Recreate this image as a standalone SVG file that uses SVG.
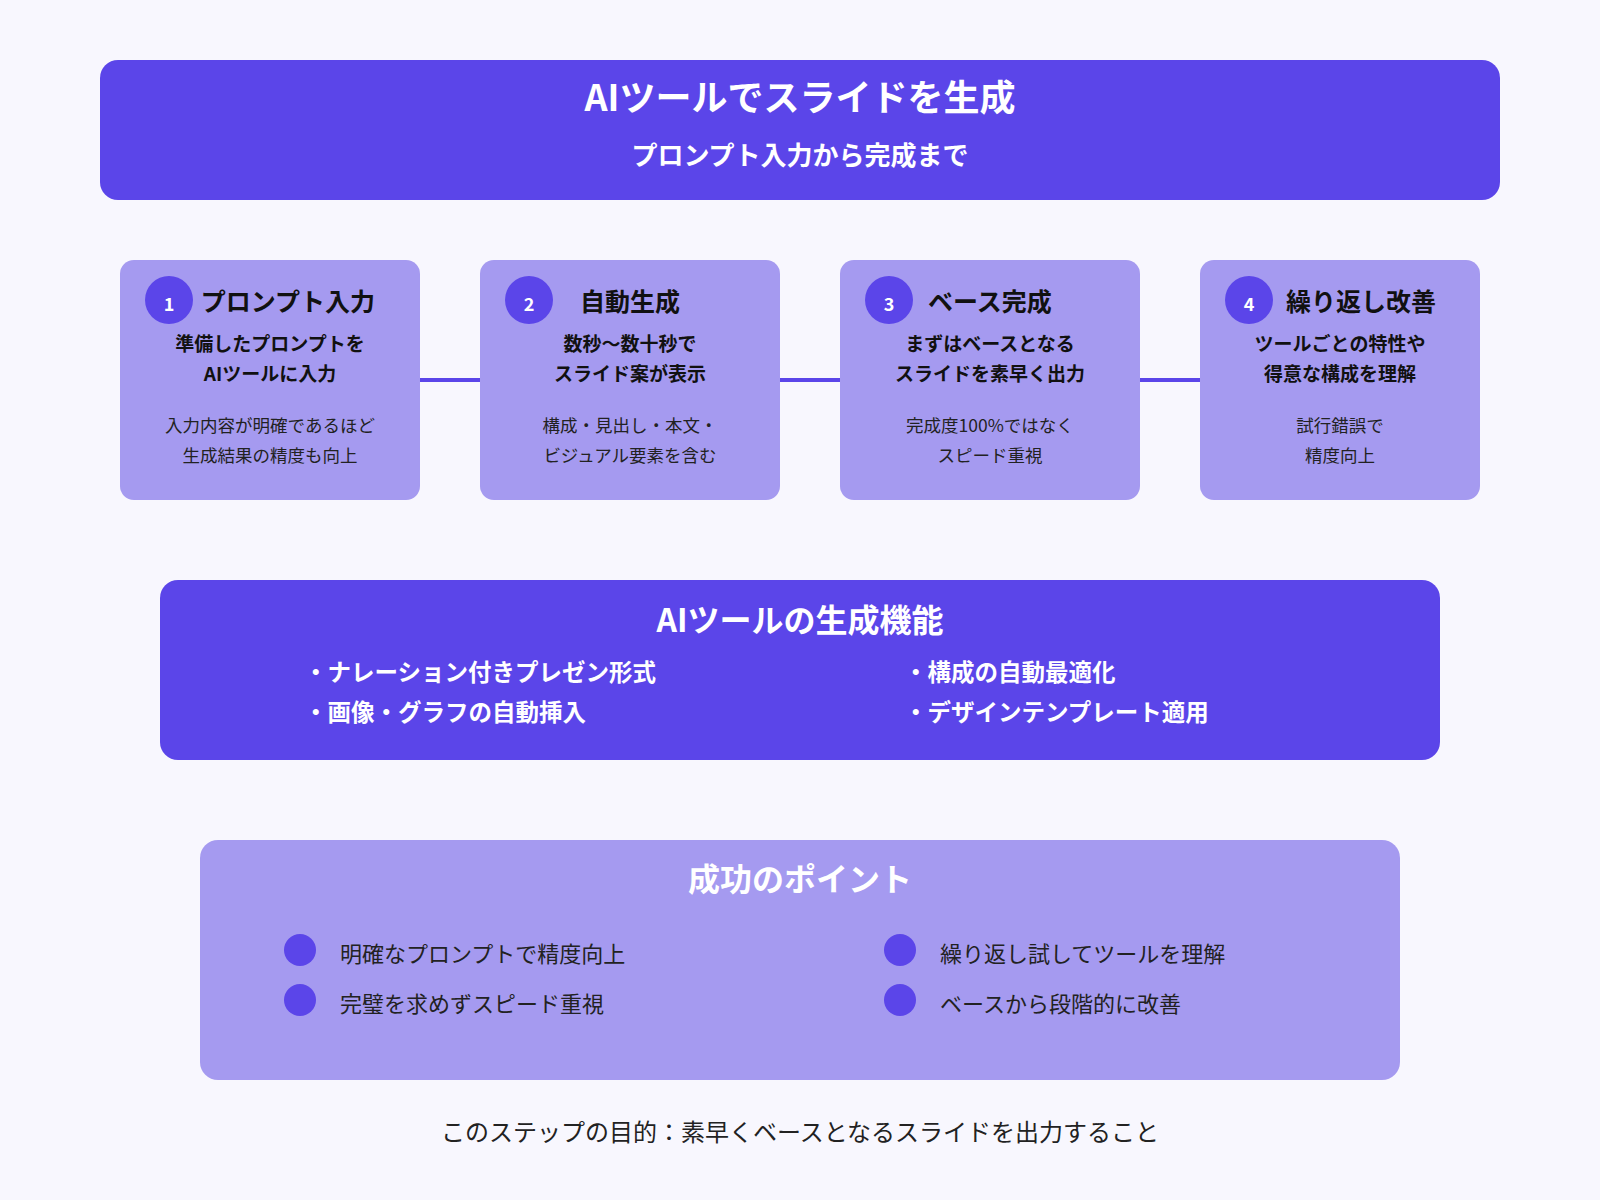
<svg xmlns="http://www.w3.org/2000/svg" width="1600" height="1200" viewBox="0 0 1600 1200">
<style>
text{font-family:"Noto Sans CJK JP","Noto Sans",sans-serif;text-anchor:middle}
.dark{fill:#5B45E9}.light{fill:#A59AF0}
.w{fill:#fff;font-weight:700}
.st{font-size:25px;font-weight:700;fill:#111}
.sb{font-size:19px;font-weight:700;fill:#111}
.sm{font-size:17.5px;fill:#222}
.bl{font-size:23.5px;font-weight:700;fill:#fff;text-anchor:start}
.pt{font-size:22px;fill:#222;text-anchor:start}
</style>
<rect width="1600" height="1200" fill="#F8F7FE"/>
<g id="header"><rect class="dark" x="100" y="60" width="1400" height="140" rx="18"/>
<text class="w" x="800" y="111" font-size="36">AIツールでスライドを生成</text>
<text class="w" x="800" y="165" font-size="26">プロンプト入力から完成まで</text></g>
<g id="connectors" stroke="#5B45E9" stroke-width="4"><line x1="420" y1="380" x2="480" y2="380"/><line x1="780" y1="380" x2="840" y2="380"/><line x1="1140" y1="380" x2="1200" y2="380"/></g>
<g id="step1"><rect class="light" x="120" y="260" width="300" height="240" rx="14"/><circle class="dark" cx="169" cy="300" r="24"/><text class="w" x="169" y="311" font-size="18">1</text>
<text class="st" x="288" y="311">プロンプト入力</text><text class="sb" x="270" y="351">準備したプロンプトを</text><text class="sb" x="270" y="381">AIツールに入力</text>
<text class="sm" x="270" y="432">入力内容が明確であるほど</text><text class="sm" x="270" y="462">生成結果の精度も向上</text></g>
<g id="step2"><rect class="light" x="480" y="260" width="300" height="240" rx="14"/><circle class="dark" cx="529" cy="300" r="24"/><text class="w" x="529" y="311" font-size="18">2</text>
<text class="st" x="630" y="311">自動生成</text><text class="sb" x="630" y="351">数秒〜数十秒で</text><text class="sb" x="630" y="381">スライド案が表示</text>
<text class="sm" x="630" y="432">構成・見出し・本文・</text><text class="sm" x="630" y="462">ビジュアル要素を含む</text></g>
<g id="step3"><rect class="light" x="840" y="260" width="300" height="240" rx="14"/><circle class="dark" cx="889" cy="300" r="24"/><text class="w" x="889" y="311" font-size="18">3</text>
<text class="st" x="990" y="311">ベース完成</text><text class="sb" x="990" y="351">まずはベースとなる</text><text class="sb" x="990" y="381">スライドを素早く出力</text>
<text class="sm" x="990" y="432">完成度100%ではなく</text><text class="sm" x="990" y="462">スピード重視</text></g>
<g id="step4"><rect class="light" x="1200" y="260" width="280" height="240" rx="14"/><circle class="dark" cx="1249" cy="300" r="24"/><text class="w" x="1249" y="311" font-size="18">4</text>
<text class="st" x="1361" y="311">繰り返し改善</text><text class="sb" x="1340" y="351">ツールごとの特性や</text><text class="sb" x="1340" y="381">得意な構成を理解</text>
<text class="sm" x="1340" y="432">試行錯誤で</text><text class="sm" x="1340" y="462">精度向上</text></g>
<g id="features"><rect class="dark" x="160" y="580" width="1280" height="180" rx="18"/>
<text class="w" x="800" y="632" font-size="32">AIツールの生成機能</text>
<text class="bl" x="304" y="681">・ナレーション付きプレゼン形式</text><text class="bl" x="304" y="721">・画像・グラフの自動挿入</text>
<text class="bl" x="904" y="681">・構成の自動最適化</text><text class="bl" x="904" y="721">・デザインテンプレート適用</text></g>
<g id="points"><rect class="light" x="200" y="840" width="1200" height="240" rx="18"/>
<text class="w" x="800" y="891" font-size="32">成功のポイント</text>
<circle class="dark" cx="300" cy="950" r="16"/><circle class="dark" cx="300" cy="1000" r="16"/><circle class="dark" cx="900" cy="950" r="16"/><circle class="dark" cx="900" cy="1000" r="16"/>
<text class="pt" x="340" y="962">明確なプロンプトで精度向上</text><text class="pt" x="340" y="1012">完璧を求めずスピード重視</text>
<text class="pt" x="940" y="962">繰り返し試してツールを理解</text><text class="pt" x="940" y="1012">ベースから段階的に改善</text></g>
<text x="800" y="1141" font-size="24" fill="#222">このステップの目的：素早くベースとなるスライドを出力すること</text>
</svg>
